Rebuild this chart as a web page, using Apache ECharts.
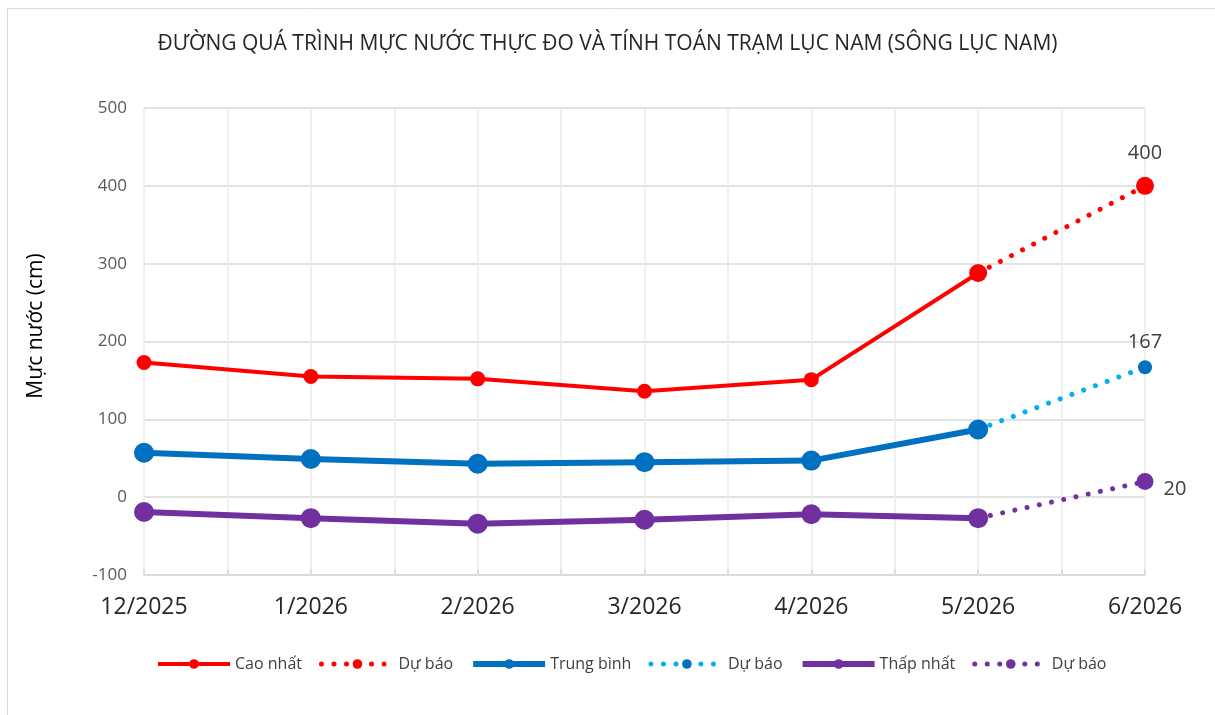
<!DOCTYPE html>
<html>
<head>
<meta charset="utf-8">
<script src="https://cdn.jsdelivr.net/npm/echarts@6/dist/echarts.min.js"></script>
<style>
html,body{margin:0;padding:0;background:#fff;}
#chart{width:1215px;height:715px;}
</style>
</head>
<body>
<div id="chart"></div>
<script>
var months = ['12/2025','1/2026','2/2026','3/2026','4/2026','5/2026','6/2026'];
var highObs = [173, 155, 152, 136, 151, 288, null];
var highFc  = [null, null, null, null, null, 288, 400];
var meanObs = [57, 49, 43, 45, 47, 87, null];
var meanFc  = [null, null, null, null, null, 87, 167];
var lowObs  = [-19, -27, -34, -29, -22, -27, null];
var lowFc   = [null, null, null, null, null, -27, 20];
var yTicks  = [-100, 0, 100, 200, 300, 400, 500];

var FONT = 'Open Sans';
var RED = '#FF0000', BLUE = '#0070C0', LBLUE = '#00B0F0', PURPLE = '#7030A0';
var DOTS = [0.01, 12.5];

function fcData(arr, labelPos, labelDist, labelOffset) {
  var last = arr.length - 1;
  return arr.map(function (v, i) {
    if (i === last && v !== null) {
      return {
        value: v,
        label: {
          show: true, position: labelPos, distance: labelDist, offset: labelOffset || [0, 0],
          color: '#404040', fontFamily: FONT, fontSize: 20
        }
      };
    }
    return v;
  });
}

var chart = echarts.init(document.getElementById('chart'), null, {renderer: 'canvas'});
var option = {
  backgroundColor: '#fff',
  animation: false,
  graphic: [{
    type: 'rect', left: 5, top: 6, z: -10,
    shape: {width: 1209, height: 720},
    style: {fill: 'none', stroke: '#d9d9d9', lineWidth: 1}
  }, {
    type: 'text', x: 36, y: 326, rotation: Math.PI / 2,
    style: {
      text: 'Mực nước (cm)', fontFamily: FONT, fontSize: 21, fill: '#000',
      align: 'center', verticalAlign: 'middle'
    }
  }],
  title: {
    text: 'ĐƯỜNG QUÁ TRÌNH MỰC NƯỚC THỰC ĐO VÀ TÍNH TOÁN TRẠM LỤC NAM (SÔNG LỤC NAM)',
    left: 'center', top: 29,
    textStyle: {fontFamily: FONT, fontSize: 21, fontWeight: 'normal', color: '#262626'}
  },
  legend: {
    left: 151, top: 651,
    itemWidth: 72, itemHeight: 12, itemGap: 17,
    textStyle: {fontFamily: FONT, fontSize: 16, color: '#404040'},
    data: [
      {name: 'Cao nhất', lineStyle: {width: 4}},
      {name: 'Dự báo ', lineStyle: {width: 5}},
      {name: 'Trung bình', lineStyle: {width: 6}},
      {name: 'Dự báo  ', lineStyle: {width: 5}},
      {name: 'Thấp nhất', lineStyle: {width: 6}},
      {name: 'Dự báo   ', lineStyle: {width: 5}}
    ],
    formatter: function (n) { return n.trim(); }
  },
  grid: {left: 144, right: 70, top: 108, bottom: 140},
  xAxis: [{
    type: 'category', data: months, boundaryGap: false,
    axisLine: {show: false}, axisTick: {show: false}, splitLine: {show: false},
    axisLabel: {fontFamily: FONT, fontSize: 23, color: '#262626', margin: 21}
  }, {
    type: 'value', min: 0, max: 12, interval: 1, position: 'bottom',
    axisLabel: {show: false},
    axisLine: {show: true, onZero: true, lineStyle: {color: '#d9d9d9', width: 1.5}},
    axisTick: {show: true, inside: true, length: 6, lineStyle: {color: '#d9d9d9', width: 1.5}},
    splitLine: {show: true, lineStyle: {color: '#ebebeb', width: 1.5}}
  }],
  yAxis: {
    type: 'value', min: yTicks[0], max: yTicks[yTicks.length - 1], interval: 100,
    axisLine: {show: false}, axisTick: {show: false},
    splitLine: {lineStyle: {color: '#d9d9d9', width: 1.5}},
    axisLabel: {fontFamily: FONT, fontSize: 17, color: '#595959', margin: 17}
  },
  series: [{
    name: 'Cao nhất', type: 'line', data: highObs, xAxisIndex: 0,
    symbol: 'circle', symbolSize: 15,
    lineStyle: {color: RED, width: 4}, itemStyle: {color: RED}
  }, {
    name: 'Dự báo ', type: 'line', data: fcData(highFc, 'top', 14), xAxisIndex: 0,
    symbol: 'circle', symbolSize: 18,
    lineStyle: {color: RED, width: 5, type: DOTS, cap: 'round'}, itemStyle: {color: RED}
  }, {
    name: 'Trung bình', type: 'line', data: meanObs, xAxisIndex: 0,
    symbol: 'circle', symbolSize: 20,
    lineStyle: {color: BLUE, width: 6}, itemStyle: {color: BLUE}
  }, {
    name: 'Dự báo  ', type: 'line', data: fcData(meanFc, 'top', 8), xAxisIndex: 0,
    symbol: 'circle', symbolSize: 14,
    lineStyle: {color: LBLUE, width: 5, type: DOTS, cap: 'round'}, itemStyle: {color: BLUE}
  }, {
    name: 'Thấp nhất', type: 'line', data: lowObs, xAxisIndex: 0,
    symbol: 'circle', symbolSize: 20,
    lineStyle: {color: PURPLE, width: 6}, itemStyle: {color: PURPLE}
  }, {
    name: 'Dự báo   ', type: 'line', data: fcData(lowFc, 'right', 10, [0, 8]), xAxisIndex: 0,
    symbol: 'circle', symbolSize: 17,
    lineStyle: {color: PURPLE, width: 5, type: DOTS, cap: 'round'}, itemStyle: {color: PURPLE}
  }]
};
chart.setOption(option);
</script>
</body>
</html>
